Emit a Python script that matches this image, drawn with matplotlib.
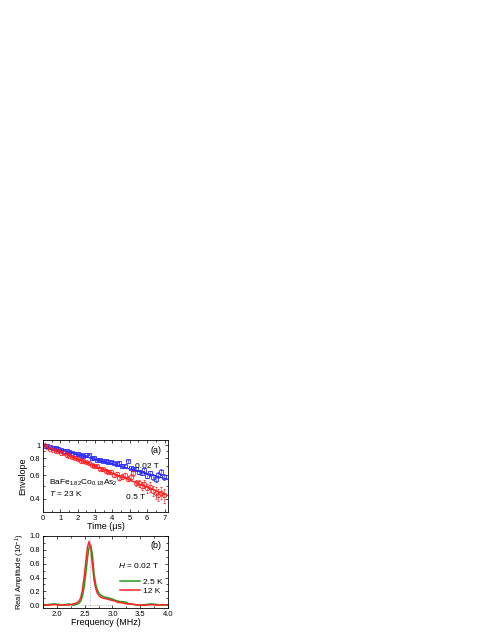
import matplotlib
matplotlib.use("Agg")
import matplotlib.pyplot as plt
from matplotlib.ticker import FixedLocator, NullFormatter, MultipleLocator

plt.rcParams['font.family'] = ['Liberation Sans', 'DejaVu Sans']
plt.rcParams['mathtext.fontset'] = 'custom'
plt.rcParams['mathtext.rm'] = 'Liberation Sans'
plt.rcParams['mathtext.it'] = 'Liberation Sans:italic'

# panel (a): spin-echo envelope vs time
t = [0.08, 0.24, 0.40, 0.56, 0.72, 0.88, 1.04, 1.20, 1.36, 1.52, 1.68, 1.84,
     2.00, 2.16, 2.32, 2.48, 2.64, 2.80, 2.96, 3.12, 3.28, 3.44, 3.60, 3.76,
     3.92, 4.08, 4.24, 4.40, 4.56, 4.72, 4.88, 5.04, 5.20, 5.36, 5.52, 5.68,
     5.84, 6.00, 6.16, 6.32, 6.48, 6.64, 6.80, 6.96]
env_002 = [0.99, 0.985, 0.97, 0.95, 0.955, 0.93, 0.925, 0.905, 0.90, 0.885, 0.88, 0.865,
           0.86, 0.845, 0.83, 0.84, 0.85, 0.80, 0.80, 0.78, 0.775, 0.765, 0.76, 0.745,
           0.75, 0.735, 0.72, 0.74, 0.705, 0.70, 0.76, 0.68, 0.66, 0.665, 0.635, 0.62,
           0.65, 0.595, 0.62, 0.58, 0.565, 0.60, 0.635, 0.58]
err_002 = [0.005, 0.005, 0.005, 0.006, 0.006, 0.006, 0.007, 0.007, 0.007, 0.008, 0.008, 0.008,
           0.009, 0.009, 0.009, 0.010, 0.010, 0.011, 0.011, 0.012, 0.012, 0.013, 0.013, 0.014,
           0.014, 0.015, 0.015, 0.016, 0.017, 0.017, 0.018, 0.019, 0.020, 0.021, 0.022, 0.023,
           0.024, 0.025, 0.026, 0.027, 0.028, 0.029, 0.030, 0.031]
env_05 = [1.0, 0.965, 0.94, 0.925, 0.91, 0.905, 0.875, 0.87, 0.845, 0.835, 0.81, 0.80,
          0.79, 0.765, 0.76, 0.745, 0.735, 0.715, 0.70, 0.695, 0.67, 0.665, 0.645, 0.635,
          0.63, 0.60, 0.61, 0.575, 0.585, 0.60, 0.565, 0.58, 0.62, 0.525, 0.52, 0.50,
          0.515, 0.48, 0.49, 0.46, 0.445, 0.43, 0.445, 0.425]
err_05 = [0.006, 0.006, 0.006, 0.007, 0.007, 0.007, 0.008, 0.008, 0.009, 0.009, 0.010, 0.010,
          0.011, 0.011, 0.012, 0.012, 0.013, 0.014, 0.014, 0.015, 0.016, 0.017, 0.017, 0.018,
          0.019, 0.020, 0.021, 0.022, 0.023, 0.024, 0.025, 0.027, 0.028, 0.030, 0.031, 0.033,
          0.035, 0.037, 0.039, 0.041, 0.043, 0.045, 0.047, 0.050]
fit_t = [0.0, 7.2]
fit_002 = [1.0, 0.558]
fit_05 = [1.0, 0.423]

# panel (b): real part of spectrum
freq = [1.75, 1.85, 1.95, 2.05, 2.15, 2.20, 2.25, 2.30, 2.35, 2.40, 2.43, 2.46, 2.49,
        2.52, 2.55, 2.58, 2.61, 2.64, 2.67, 2.70, 2.73, 2.76, 2.80, 2.85, 2.90, 2.95,
        3.00, 3.05, 3.10, 3.15, 3.20, 3.25, 3.30, 3.40, 3.50, 3.60, 3.70, 3.80, 3.90, 4.00]
amp_25K = [0.0, 0.01, 0.02, 0.01, 0.0, 0.02, 0.01, 0.0, 0.01, 0.03, 0.06, 0.13, 0.26,
           0.45, 0.68, 0.84, 0.87, 0.72, 0.45, 0.30, 0.22, 0.17, 0.14, 0.12, 0.11, 0.10,
           0.09, 0.07, 0.06, 0.05, 0.05, 0.04, 0.02, 0.01, 0.0, 0.01, 0.02, 0.01, 0.0, 0.01]
amp_12K = [0.01, 0.0, 0.01, 0.0, 0.01, 0.0, 0.01, 0.02, 0.03, 0.06, 0.11, 0.22, 0.40,
           0.62, 0.84, 0.92, 0.82, 0.58, 0.36, 0.24, 0.17, 0.14, 0.11, 0.10, 0.09, 0.08,
           0.07, 0.06, 0.04, 0.04, 0.03, 0.02, 0.02, 0.01, 0.0, 0.0, 0.01, 0.0, 0.01, 0.0]
f_peak = 2.6

blue = '#2b2bff'
red = '#ff2020'
green = '#1f9e1f'
fs = 6

fig = plt.figure(figsize=(4.91, 6.35), dpi=100)
ax1 = fig.add_axes([43 / 491, 1 - 512 / 635, 125 / 491, 72 / 635])
ax2 = fig.add_axes([43 / 491, 1 - 608 / 635, 125 / 491, 72 / 635])

ax1.errorbar(t, env_002, yerr=err_002, fmt='s', ms=3.1, mfc='none', mec=blue, mew=0.6,
             ecolor=blue, elinewidth=0.4, capsize=0.8, capthick=0.4)
ax1.errorbar(t, env_05, yerr=err_05, fmt='o', ms=3.2, mfc='none', mec=red, mew=0.6,
             ecolor=red, elinewidth=0.4, capsize=0.8, capthick=0.4)
ax1.plot(fit_t, fit_002, color=blue, lw=1.0)
ax1.plot(fit_t, fit_05, color=red, lw=1.0)
ax1.set_yscale('log')
ax1.set_xlim(0, 7.2)
ax1.set_ylim(0.32, 1.09)
ax1.yaxis.set_major_locator(FixedLocator([0.4, 0.6, 0.8, 1.0]))
ax1.yaxis.set_minor_locator(FixedLocator([0.5, 0.7, 0.9]))
ax1.set_yticklabels(['0.4', '0.6', '0.8', '1'])
ax1.yaxis.set_minor_formatter(NullFormatter())
ax1.xaxis.set_major_locator(MultipleLocator(1))
ax1.xaxis.set_minor_locator(MultipleLocator(0.5))
ax1.set_xlabel('Time (\u03bcs)', fontsize=6.5, labelpad=0.5)
ax1.set_ylabel('Envelope', fontsize=6.5, labelpad=2)
ax1.text(0.945, 0.86, '(a)', transform=ax1.transAxes, fontsize=6.5, ha='right', va='center')
ax1.text(5.3, 0.70, '0.02 T', fontsize=fs, ha='left', va='center')
ax1.text(4.8, 0.407, '0.5 T', fontsize=fs, ha='left', va='center')
ax1.text(0.34, 0.528, r'BaFe$_{1.82}$Co$_{0.18}$As$_{2}$', fontsize=fs, ha='left', va='center')
ax1.text(0.34, 0.44, r'$T$ = 23 K', fontsize=fs, ha='left', va='center')

ax2.plot(freq, amp_25K, color=green, lw=1.1, label='2.5 K')
ax2.plot(freq, amp_12K, color=red, lw=1.1, label='12 K')
ax2.plot([f_peak, f_peak], [0, 1.0], color='#999999', lw=0.6, ls=':')
ax2.plot([2.43, 3.0], [0, 0], color='#999999', lw=0.6, ls=':')
ax2.set_xlim(1.75, 4.0)
ax2.set_ylim(-0.04, 1.0)
ax2.xaxis.set_major_locator(MultipleLocator(0.5))
ax2.xaxis.set_minor_locator(MultipleLocator(0.25))
ax2.yaxis.set_major_locator(MultipleLocator(0.2))
ax2.yaxis.set_minor_locator(MultipleLocator(0.1))
ax2.set_xlabel('Frequency (MHz)', fontsize=6.5, labelpad=0.5)
ax2.set_ylabel('Real Amplitude (10$^{-1}$)', fontsize=5.6, labelpad=2)
ax2.text(0.945, 0.87, '(b)', transform=ax2.transAxes, fontsize=6.5, ha='right', va='center')
ax2.text(0.60, 0.59, r'$H$ = 0.02 T', transform=ax2.transAxes, fontsize=fs, ha='left', va='center')
ax2.legend(loc='upper left', bbox_to_anchor=(0.58, 0.47), frameon=False, fontsize=fs,
           handlelength=2.4, handletextpad=0.4, borderpad=0, labelspacing=0.15)

for ax in (ax1, ax2):
    ax.tick_params(which='both', direction='in', top=True, right=True, labelsize=5.5, pad=2,
                   width=0.5)
    ax.tick_params(which='major', length=2.5)
    ax.tick_params(which='minor', length=1.3)
    for s in ax.spines.values():
        s.set_linewidth(0.6)

fig.savefig('out.png', dpi=100)
